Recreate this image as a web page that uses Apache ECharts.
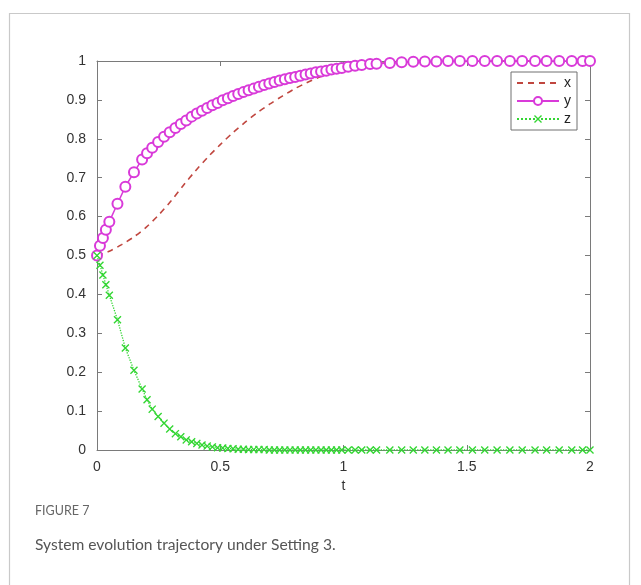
<!DOCTYPE html>
<html>
<head>
<meta charset="utf-8">
<script src="https://cdn.jsdelivr.net/npm/echarts@6/dist/echarts.min.js"></script>
<style>
html,body{margin:0;padding:0;background:#fff;}
#chart{width:641px;height:585px;}
</style>
</head>
<body>
<div id="chart"></div>
<script>
// Solver time points (shared by y and z markers)
var tValues = [0, 0.012, 0.024, 0.036, 0.05, 0.083, 0.115, 0.15, 0.183, 0.203,
  0.224, 0.248, 0.272, 0.295, 0.318, 0.34, 0.362, 0.384, 0.405, 0.426,
  0.447, 0.468, 0.489, 0.51, 0.531, 0.552, 0.573, 0.594, 0.615, 0.636,
  0.657, 0.678, 0.699, 0.72, 0.741, 0.762, 0.783, 0.804, 0.825, 0.846,
  0.867, 0.888, 0.909, 0.93, 0.951, 0.972, 0.993, 1.019, 1.047, 1.074,
  1.108, 1.134, 1.188, 1.236, 1.283, 1.33, 1.377, 1.424, 1.472, 1.523,
  1.573, 1.623, 1.675, 1.725, 1.777, 1.824, 1.875, 1.926, 1.97, 2.0];
var yValues = [0.5, 0.525, 0.545, 0.566, 0.587, 0.633, 0.677, 0.714, 0.747, 0.763,
  0.777, 0.792, 0.805, 0.817, 0.828, 0.838, 0.847, 0.857, 0.865, 0.872,
  0.879, 0.886, 0.892, 0.899, 0.904, 0.910, 0.915, 0.920, 0.925, 0.929,
  0.934, 0.938, 0.942, 0.946, 0.950, 0.953, 0.956, 0.959, 0.962, 0.965,
  0.968, 0.971, 0.973, 0.975, 0.978, 0.980, 0.982, 0.985, 0.988, 0.990,
  0.992, 0.993, 0.995, 0.997, 0.998, 0.999, 0.999, 1, 1, 1,
  1, 1, 1, 1, 1, 1, 1, 1, 1, 1];
var zValues = [0.5, 0.475, 0.45, 0.425, 0.398, 0.335, 0.262, 0.205, 0.157, 0.129,
  0.105, 0.086, 0.069, 0.054, 0.042, 0.034, 0.026, 0.021, 0.017, 0.013,
  0.010, 0.008, 0.006, 0.005, 0.004, 0.003, 0.002, 0.002, 0.001, 0.001,
  0.001, 0.001, 0, 0, 0, 0, 0, 0, 0, 0,
  0, 0, 0, 0, 0, 0, 0, 0, 0, 0,
  0, 0, 0, 0, 0, 0, 0, 0, 0, 0,
  0, 0, 0, 0, 0, 0, 0, 0, 0, 0];
// x curve (dashed, no markers)
var xCurveT = [0, 0.05, 0.1, 0.15, 0.2, 0.25, 0.3, 0.35, 0.4, 0.45, 0.5, 0.55, 0.6,
  0.65, 0.7, 0.75, 0.8, 0.85, 0.9, 0.95, 1.0, 1.1, 1.2, 1.4, 1.6, 2.0];
var xCurveV = [0.5, 0.511, 0.528, 0.548, 0.573, 0.604, 0.640, 0.680, 0.718, 0.753, 0.785, 0.815, 0.842,
  0.867, 0.889, 0.909, 0.928, 0.944, 0.958, 0.970, 0.980, 0.991, 0.996, 0.999, 1, 1];
var xTicks = ['0', '0.5', '1', '1.5', '2'];
var yTicks = ['0', '0.1', '0.2', '0.3', '0.4', '0.5', '0.6', '0.7', '0.8', '0.9', '1'];
var seriesNames = ['x', 'y', 'z'];
var captionLabel = 'FIGURE 7';
var captionText = 'System evolution trajectory under Setting 3.';

function pairs(a, b) { return a.map(function (v, i) { return [v, b[i]]; }); }

var axisColor = '#7a7a7a';
var fontFam = 'Liberation Sans, Arial, sans-serif';
var labelColor = '#333';
var xCross = 'path://M0,1.2 L1.2,0 L5,3.8 L8.8,0 L10,1.2 L6.2,5 L10,8.8 L8.8,10 L5,6.2 L1.2,10 L0,8.8 L3.8,5 Z';

function frameAxis(extra) {
  var base = {
    type: 'value',
    axisLine: { show: true, onZero: false, lineStyle: { color: axisColor, width: 1 } },
    axisTick: { show: true, inside: true, length: 5, lineStyle: { color: axisColor } },
    splitLine: { show: false }
  };
  for (var k in extra) base[k] = extra[k];
  return base;
}

var chart = echarts.init(document.getElementById('chart'), null, { renderer: 'canvas' });
chart.setOption({
  animation: false,
  backgroundColor: '#ffffff',
  graphic: [
    { type: 'rect', shape: { x: 9.5, y: 13.5, width: 620, height: 620 },
      style: { fill: 'none', stroke: '#c9c9c9', lineWidth: 1.2 }, z: -10 },
    { type: 'text', left: 35, top: 504,
      style: { text: captionLabel, fill: '#666', fontSize: 12.5, fontFamily: 'Lato, sans-serif' } },
    { type: 'text', left: 35, top: 537,
      style: { text: captionText, fill: '#555', fontSize: 15.6, fontFamily: 'Lato, sans-serif' } }
  ],
  grid: { left: 97, right: 51, top: 61, bottom: 135, containLabel: false },
  legend: {
    data: [{ name: 'x', itemStyle: { opacity: 0 } }, { name: 'y' }, { name: 'z' }],
    orient: 'vertical',
    right: 64, top: 72,
    align: 'left',
    itemWidth: 42, itemHeight: 10, itemGap: 4,
    padding: [4, 6, 4, 5],
    borderColor: '#707070', borderWidth: 1,
    backgroundColor: '#fff',
    textStyle: { color: '#222', fontSize: 14, fontFamily: fontFam }
  },
  xAxis: [
    frameAxis({ min: 0, max: 2, interval: 0.5, position: 'bottom',
      name: 't', nameLocation: 'middle', nameGap: 28,
      nameTextStyle: { color: labelColor, fontSize: 14, fontFamily: fontFam },
      axisLabel: { margin: 10, formatter: function (v) { return xTicks[Math.round(v / 0.5)]; }, color: labelColor, fontSize: 14, fontFamily: fontFam } }),
    frameAxis({ min: 0, max: 2, interval: 0.5, position: 'top', axisLabel: { show: false } })
  ],
  yAxis: [
    frameAxis({ min: 0, max: 1, interval: 0.1, position: 'left',
      axisLabel: { margin: 11, formatter: function (v) { return yTicks[Math.round(v * 10)]; }, color: labelColor, fontSize: 14, fontFamily: fontFam } }),
    frameAxis({ min: 0, max: 1, interval: 0.1, position: 'right', axisLabel: { show: false } })
  ],
  series: [
    { name: 'x', type: 'line', data: pairs(xCurveT, xCurveV), smooth: 0.3,
      showSymbol: false, symbol: 'none', clip: false,
      lineStyle: { color: '#c0463f', width: 1.6, type: [6, 5] },
      itemStyle: { color: '#c0463f' }, z: 3 },
    { name: 'y', type: 'line', data: pairs(tValues, yValues),
      symbol: 'emptyCircle', symbolSize: 10, showSymbol: true, showAllSymbol: true, clip: false,
      lineStyle: { color: '#d93ad9', width: 1.5 },
      itemStyle: { color: '#d93ad9', borderColor: '#d93ad9', borderWidth: 1.5 }, z: 4 },
    { name: 'z', type: 'line', data: pairs(tValues, zValues),
      symbol: xCross, symbolSize: 8, showSymbol: true, showAllSymbol: true, clip: false,
      lineStyle: { color: '#33d633', width: 1.3, type: 'dotted' },
      itemStyle: { color: '#33d633' }, z: 5 }
  ]
});
</script>
</body>
</html>
